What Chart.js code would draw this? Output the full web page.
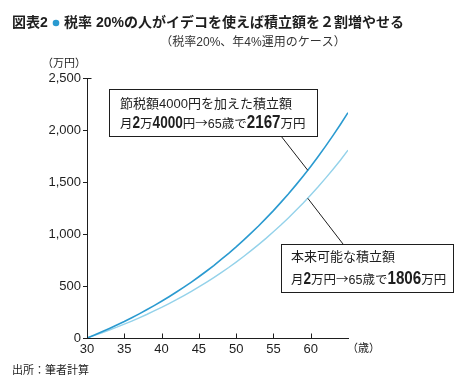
<!DOCTYPE html>
<html>
<head>
<meta charset="utf-8">
<script src="https://cdn.jsdelivr.net/npm/chart.js@4.4.0/dist/chart.umd.min.js"></script>
<style>
  html, body { margin: 0; padding: 0; background: #fff; }
  #wrap { position: relative; width: 468px; height: 390px; }
</style>
</head>
<body>
<div id="wrap"><canvas id="idecoChart" width="468" height="390"></canvas></div>
<script>
// 年齢（歳）
const ages = [30, 31, 32, 33, 34, 35, 36, 37, 38, 39, 40, 41, 42, 43, 44, 45, 46, 47,
    48, 49, 50, 51, 52, 53, 54, 55, 56, 57, 58, 59, 60, 61, 62, 63, 64, 65];
// 節税額4000円を加えた積立額（月2万4000円、万円）
const withTaxSaving = [0, 29, 60, 92, 125, 159, 195, 232, 271, 311, 353, 397, 442, 489,
    538, 589, 642, 697, 755, 814, 876, 941, 1008, 1077, 1150, 1225, 1304, 1385, 1470,
    1558, 1650, 1746, 1845, 1948, 2055, 2167];
// 本来可能な積立額（月2万円、万円）
const standardPlan = [0, 25, 50, 77, 104, 133, 163, 194, 226, 260, 294, 331, 368, 408,
    448, 491, 535, 581, 629, 678, 730, 784, 840, 898, 958, 1021, 1086, 1154, 1225, 1298,
    1375, 1454, 1537, 1623, 1712, 1806];
const xTickValues = [30, 35, 40, 45, 50, 55, 60];
const yTickValues = [0, 500, 1000, 1500, 2000, 2500];

const FONT = '"Liberation Sans", "Noto Sans CJK JP", sans-serif';
const CJK = '"Noto Sans CJK JP", sans-serif';
const INK = '#1e1e1e';

function font(size, bold, family) {
    return (bold ? 'bold ' : '') + size + 'px ' + (family || FONT);
}

// draw a line made of several runs of text (size / weight / horizontal squeeze)
function drawRuns(ctx, x, y, runs) {
    ctx.textBaseline = 'alphabetic';
    ctx.textAlign = 'left';
    runs.forEach(function(r) {
        const text = r[0], size = r[1], bold = r[2], sx = r[3] || 1;
        ctx.font = font(size, bold, r[4]);
        ctx.save();
        ctx.translate(x, y);
        ctx.scale(sx, 1);
        ctx.fillText(text, 0, 0);
        ctx.restore();
        x += ctx.measureText(text).width * sx;
    });
}

const decorations = {
    id: 'decorations',
    afterDraw: function(chart) {
        const ctx = chart.ctx;
        const xs = chart.scales.x, ys = chart.scales.y;
        ctx.save();
        ctx.fillStyle = INK;
        ctx.strokeStyle = INK;
        ctx.lineWidth = 1;

        // inward ticks on the x axis
        const bottom = Math.round(ys.getPixelForValue(0)) + 0.5;
        ctx.beginPath();
        xTickValues.forEach(function(v) {
            const px = Math.round(xs.getPixelForValue(v)) + 0.5;
            ctx.moveTo(px, bottom);
            ctx.lineTo(px, bottom - 5);
        });
        // small cap at the top of the y axis
        const top = Math.round(ys.getPixelForValue(2500)) + 0.5;
        const left = Math.round(xs.getPixelForValue(30)) + 0.5;
        ctx.moveTo(left, top);
        ctx.lineTo(left + 4, top);
        ctx.stroke();

        // title
        ctx.textBaseline = 'middle';
        ctx.textAlign = 'left';
        ctx.font = font(14, true);
        ctx.fillText('図表2', 12, 23);
        ctx.fillStyle = '#2a9ad0';
        ctx.beginPath();
        ctx.arc(56, 23, 3.3, 0, Math.PI * 2);
        ctx.fill();
        ctx.fillStyle = INK;
        ctx.fillText('税率 20%の人がイデコを使えば積立額を２割増やせる', 64, 23);

        ctx.font = font(12, false);
        ctx.fillStyle = '#333';
        ctx.textAlign = 'center';
        ctx.fillText('（税率20%、年4%運用のケース）', 253, 43);

        // axis units
        ctx.fillStyle = INK;
        ctx.font = font(11, false);
        ctx.textAlign = 'right';
        ctx.fillText('（万円）', 86, 64);
        ctx.textAlign = 'left';
        ctx.fillText('（歳）', 347, 349);
        ctx.fillText('出所：筆者計算', 12, 371);

        // leader lines
        ctx.beginPath();
        ctx.moveTo(281, 136);
        ctx.lineTo(xs.getPixelForValue(59.6), ys.getPixelForValue(1613));
        ctx.moveTo(343, 244);
        ctx.lineTo(xs.getPixelForValue(59.6), ys.getPixelForValue(1344));
        ctx.stroke();

        // annotation boxes
        ctx.fillStyle = '#fff';
        ctx.fillRect(109.5, 89.5, 208, 47);
        ctx.strokeRect(109.5, 89.5, 208, 47);
        ctx.fillRect(281.5, 244.5, 172, 48);
        ctx.strokeRect(281.5, 244.5, 172, 48);

        ctx.fillStyle = INK;
        drawRuns(ctx, 120, 108, [['節税額4000円を加えた積立額', 13, false]]);
        drawRuns(ctx, 120, 128, [
            ['月', 12.5, false, 1, CJK], ['2', 17, true, 0.8], ['万', 12.5, false, 1, CJK],
            ['4000', 17, true, 0.8], ['円→', 12.5, false, 1, CJK], ['65', 12.5, false],
            ['歳で', 12.5, false, 1, CJK],
            ['2167', 19, true, 0.8], ['万円', 12.5, false, 1, CJK]
        ]);
        drawRuns(ctx, 291, 261, [['本来可能な積立額', 13, false]]);
        drawRuns(ctx, 291, 284, [
            ['月', 12.5, false, 1, CJK], ['2', 17, true, 0.8], ['万円→', 12.5, false, 1, CJK],
            ['65', 12.5, false], ['歳で', 12.5, false, 1, CJK],
            ['1806', 19, true, 0.8], ['万円', 12.5, false, 1, CJK]
        ]);
        ctx.restore();
    }
};

function toPoints(values) {
    return ages.map(function(a, i) { return { x: a, y: values[i] }; });
}

const ctx = document.getElementById('idecoChart').getContext('2d');
const idecoChart = new Chart(ctx, {
    type: 'line',
    data: {
        datasets: [{
            label: '節税額4000円を加えた積立額',
            data: toPoints(withTaxSaving),
            borderColor: '#2a9ad0',
            borderWidth: 1.6,
            pointRadius: 0,
            tension: 0
        }, {
            label: '本来可能な積立額',
            data: toPoints(standardPlan),
            borderColor: '#94d2ea',
            borderWidth: 1.4,
            pointRadius: 0,
            tension: 0
        }]
    },
    options: {
        responsive: false,
        animation: false,
        devicePixelRatio: 1,
        layout: { padding: { left: 0, top: 78, right: 120, bottom: 32 } },
        plugins: {
            legend: { display: false },
            tooltip: { enabled: false }
        },
        scales: {
            x: {
                type: 'linear',
                min: 30,
                max: 65,
                afterFit: function(s) { s.height = 20; },
                afterBuildTicks: function(s) {
                    s.ticks = xTickValues.map(function(v) { return { value: v }; });
                },
                grid: { drawOnChartArea: false, drawTicks: false },
                border: { color: INK, width: 1 },
                ticks: {
                    color: INK,
                    padding: 4,
                    maxRotation: 0,
                    font: { family: FONT, size: 13 }
                }
            },
            y: {
                min: 0,
                max: 2500,
                afterFit: function(s) { s.width = 87; },
                afterBuildTicks: function(s) {
                    s.ticks = yTickValues.map(function(v) { return { value: v }; });
                },
                grid: { drawOnChartArea: false, drawTicks: true, tickLength: 4, color: INK },
                border: { color: INK, width: 1 },
                ticks: {
                    color: INK,
                    padding: 2,
                    font: { family: FONT, size: 13 },
                    callback: function(v) { return v.toLocaleString('en-US'); }
                }
            }
        }
    },
    plugins: [decorations]
});
</script>
</body>
</html>
